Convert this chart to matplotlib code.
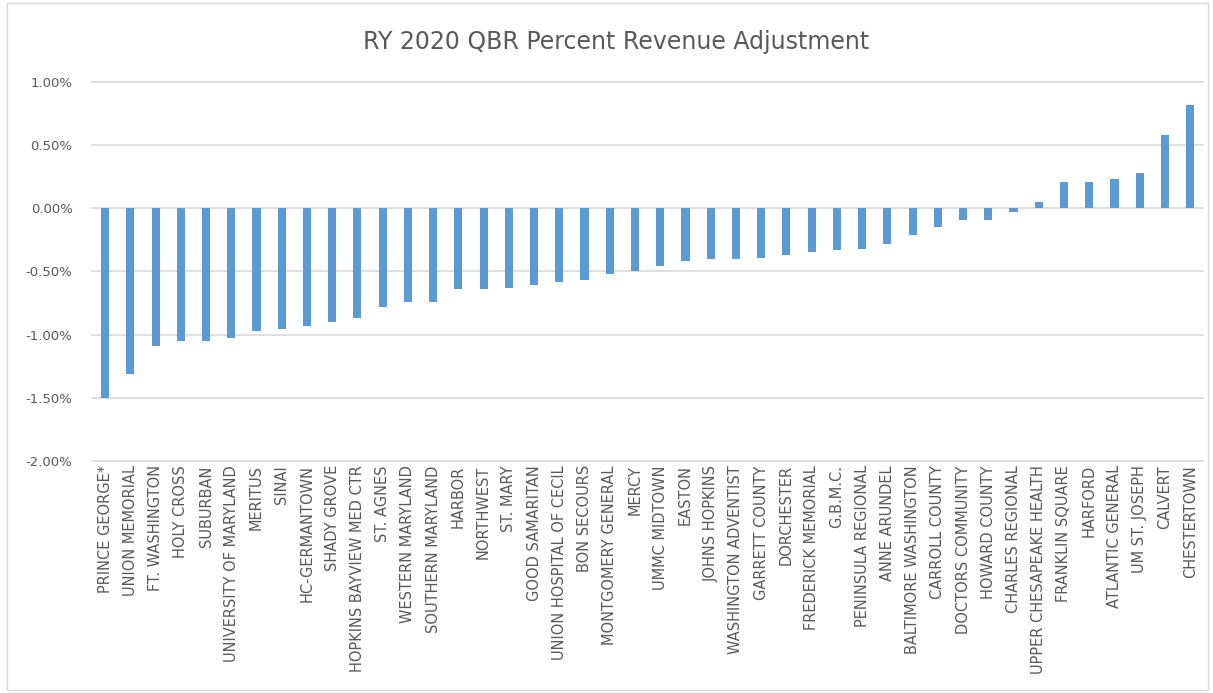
import matplotlib
matplotlib.use("Agg")
import matplotlib.pyplot as plt
from matplotlib.patches import Rectangle
from matplotlib.ticker import FuncFormatter

hospitals = [
    "PRINCE GEORGE*", "UNION MEMORIAL", "FT. WASHINGTON", "HOLY CROSS", "SUBURBAN",
    "UNIVERSITY OF MARYLAND", "MERITUS", "SINAI", "HC-GERMANTOWN", "SHADY GROVE",
    "HOPKINS BAYVIEW MED CTR", "ST. AGNES", "WESTERN MARYLAND", "SOUTHERN MARYLAND",
    "HARBOR", "NORTHWEST", "ST. MARY", "GOOD SAMARITAN", "UNION HOSPITAL OF CECIL",
    "BON SECOURS", "MONTGOMERY GENERAL", "MERCY", "UMMC MIDTOWN", "EASTON",
    "JOHNS HOPKINS", "WASHINGTON ADVENTIST", "GARRETT COUNTY", "DORCHESTER",
    "FREDERICK MEMORIAL", "G.B.M.C.", "PENINSULA REGIONAL", "ANNE ARUNDEL",
    "BALTIMORE WASHINGTON", "CARROLL COUNTY", "DOCTORS COMMUNITY", "HOWARD COUNTY",
    "CHARLES REGIONAL", "UPPER CHESAPEAKE HEALTH", "FRANKLIN SQUARE", "HARFORD",
    "ATLANTIC GENERAL", "UM ST. JOSEPH", "CALVERT", "CHESTERTOWN",
]
# percent revenue adjustment (%)
adjustment = [
    -1.50, -1.31, -1.09, -1.05, -1.05,
    -1.03, -0.97, -0.955, -0.93, -0.90,
    -0.87, -0.78, -0.74, -0.74,
    -0.64, -0.64, -0.63, -0.61, -0.585,
    -0.57, -0.52, -0.50, -0.46, -0.42,
    -0.40, -0.40, -0.39, -0.37,
    -0.345, -0.33, -0.32, -0.28,
    -0.21, -0.15, -0.09, -0.09,
    -0.03, 0.05, 0.21, 0.21,
    0.23, 0.28, 0.58, 0.82,
]
y_ticks = [1.0, 0.5, 0.0, -0.5, -1.0, -1.5, -2.0]

text_color = "#595959"
bar_color = "#5b9bd5"

fig = plt.figure(figsize=(12.13, 6.93), dpi=100)
ax = fig.add_axes([0.0758, 0.3348, 0.9162, 0.5469])

x = range(len(hospitals))
ax.bar(x, adjustment, width=0.32, color=bar_color, zorder=3)

ax.set_xlim(-0.52, len(hospitals) - 0.48)
ax.set_ylim(-2.0, 1.0)
ax.set_yticks(y_ticks)
ax.yaxis.set_major_formatter(FuncFormatter(lambda v, p: f"{v:.2f}%"))
# gridlines drawn by hand so the -2.00% line at the axes edge is not clipped
for t in y_ticks:
    ax.axhline(t, color="#d9d9d9", linewidth=1.2, zorder=0, clip_on=False)

ax.set_xticks(list(x))
ax.set_xticklabels(hospitals, rotation=90, fontsize=10.5, color=text_color)
ax.tick_params(axis="x", length=0, pad=3)
ax.tick_params(axis="y", length=0, pad=14, labelsize=9.5, labelcolor=text_color)
for s in ax.spines.values():
    s.set_visible(False)

fig.text(0.508, 0.94, "RY 2020 QBR Percent Revenue Adjustment", ha="center", va="center",
         fontsize=17, color=text_color)

fig.patches.append(Rectangle((0.006, 0.004), 0.99, 0.992, transform=fig.transFigure,
                             fill=False, edgecolor="#d9d9d9", linewidth=1))

fig.savefig("out.png", dpi=100)
